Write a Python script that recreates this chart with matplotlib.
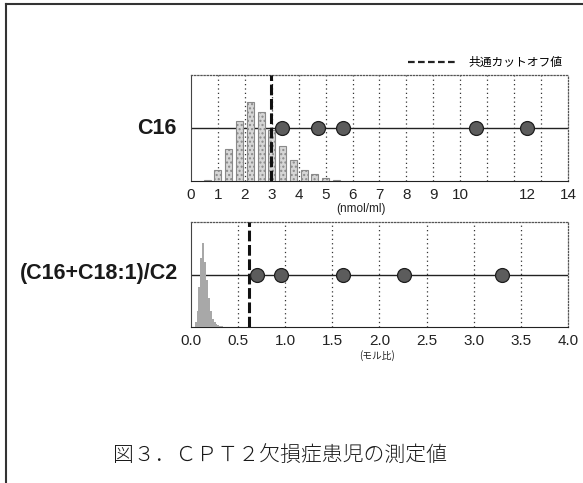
import matplotlib
matplotlib.use("Agg")
import matplotlib.pyplot as plt
import matplotlib.ticker as tkr
from matplotlib.lines import Line2D

plt.rcParams['font.family'] = ['Liberation Sans', 'Noto Sans CJK JP']

# C16 (nmol/ml): control histogram, patients, cutoff
c16_bins = [0.6, 1.0, 1.4, 1.8, 2.2, 2.6, 3.0, 3.4, 3.8, 4.2, 4.6, 5.0, 5.4]
c16_heights = [0.01, 0.105, 0.30, 0.57, 0.745, 0.65, 0.48, 0.33, 0.20, 0.10, 0.065, 0.03, 0.01]
c16_patients = [3.37, 4.73, 5.66, 10.58, 12.47]
c16_cutoff = 2.96
c16_tick_pos = [0, 1, 2, 3, 4, 5, 6, 7, 8, 9, 10, 12.5, 14]
c16_tick_lbl = ["0", "1", "2", "3", "4", "5", "6", "7", "8", "9", "10", "12", "14"]

# (C16+C18:1)/C2 ratio
ratio_bins = [0.05, 0.07, 0.09, 0.11, 0.13, 0.15, 0.17, 0.19, 0.21, 0.23, 0.25, 0.27, 0.29, 0.31, 0.33]
ratio_heights = [0.05, 0.15, 0.38, 0.66, 0.80, 0.62, 0.45, 0.28, 0.15, 0.08, 0.05, 0.03, 0.02, 0.01, 0.005]
ratio_patients = [0.70, 0.95, 1.61, 2.26, 3.30]
ratio_cutoff = 0.62
ratio_ticks = [0.0, 0.5, 1.0, 1.5, 2.0, 2.5, 3.0, 3.5, 4.0]

fig = plt.figure(figsize=(5.83, 4.83), dpi=100)
W, H = 583, 483

def axes_px(left, top, right, bottom):
  return fig.add_axes([left / W, 1 - bottom / H, (right - left) / W, (bottom - top) / H])

def style(ax):
  ax.set_ylim(0, 1)
  ax.set_yticks([])
  for s in ("top", "right"):
    ax.spines[s].set_linestyle((0, (1, 1.5)))
    ax.spines[s].set_color("#555555")
    ax.spines[s].set_linewidth(0.9)
  ax.spines["left"].set_color("#444444")
  ax.spines["bottom"].set_color("#222222")
  ax.tick_params(axis="x", which="both", length=0, labelsize=11, pad=5, colors="#222222")
  ax.xaxis.remove_overlapping_locs = False
  ax.grid(True, which="minor", axis="x", color="#333333", linestyle=(0, (1, 2.5)), linewidth=0.9)
  ax.set_axisbelow(True)
  ax.axhline(0.5, color="#222222", linewidth=1.0, zorder=2)

point_kw = dict(linestyle="none", marker="o", markersize=10, markerfacecolor="#5c5c5c",
                markeredgecolor="#1e1e1e", markeredgewidth=0.9, zorder=5)
cut_kw = dict(color="#111111", linewidth=2.2, linestyle=(0, (3.5, 1.2)), zorder=4)

# top panel
ax1 = axes_px(191, 75, 568, 181)
style(ax1)
ax1.set_xlim(0, 14)
ax1.xaxis.set_minor_locator(tkr.FixedLocator(list(range(1, 14))))
ax1.set_xticks(c16_tick_pos)
ax1.set_xticklabels(c16_tick_lbl)
ax1.bar(c16_bins, c16_heights, width=0.26, color="#d6d6d6", edgecolor="#8a8a8a",
        linewidth=0.8, hatch="....", zorder=3)
ax1.axvline(c16_cutoff, **cut_kw)
ax1.plot(c16_patients, [0.5] * len(c16_patients), **point_kw)

# bottom panel
ax2 = axes_px(191, 222, 568, 327)
style(ax2)
ax2.set_xlim(0, 4)
ax2.xaxis.set_minor_locator(tkr.FixedLocator(ratio_ticks[1:-1]))
ax2.set_xticks(ratio_ticks)
ax2.set_xticklabels(["%.1f" % t for t in ratio_ticks])
ax2.bar(ratio_bins, ratio_heights, width=0.021, color="#a8a8a8", edgecolor="none", zorder=3)
ax2.axvline(ratio_cutoff, **cut_kw)
ax2.plot(ratio_patients, [0.5] * len(ratio_patients), **point_kw)

# row labels
fig.text(177 / W, 1 - 128 / H, "C16", ha="right", va="center", fontsize=15.5, fontweight="bold", color="#1a1a1a")
fig.text(178 / W, 1 - 273 / H, "(C16+C18:1)/C2", ha="right", va="center", fontsize=15.5, fontweight="bold", color="#1a1a1a")

# unit labels
fig.text(361 / W, 1 - 209 / H, "(nmol/ml)", ha="center", va="center", fontsize=8.5, color="#222222")
fig.text(377 / W, 1 - 356 / H, "(モル比)", ha="center", va="center", fontsize=7, color="#222222",
         family=["Noto Sans CJK JP", "Liberation Sans"])

# legend for cutoff
handle = Line2D([], [], color="#222222", linewidth=1.6, linestyle=(0, (3, 1.5)))
ax1.legend([handle], ["共通カットオフ値"], loc="lower right", bbox_to_anchor=(1.0, 1.0),
           frameon=False, handlelength=4.2, handletextpad=0.9, borderaxespad=0.1,
           prop={"family": ["Noto Sans CJK JP"], "size": 8.5})

# caption
fig.text(280 / W, 1 - 455 / H, "図３．ＣＰＴ２欠損症患児の測定値", ha="center", va="center", fontsize=15,
         family=["Noto Sans CJK JP"], fontweight="light", color="#1a1a1a")

# outer frame
fig.add_artist(Line2D([6 / W, 1], [1 - 4 / H, 1 - 4 / H], color="#333333", linewidth=1.5))
fig.add_artist(Line2D([6 / W, 6 / W], [0, 1 - 4 / H], color="#333333", linewidth=1.5))

fig.savefig("out.png", dpi=100)
